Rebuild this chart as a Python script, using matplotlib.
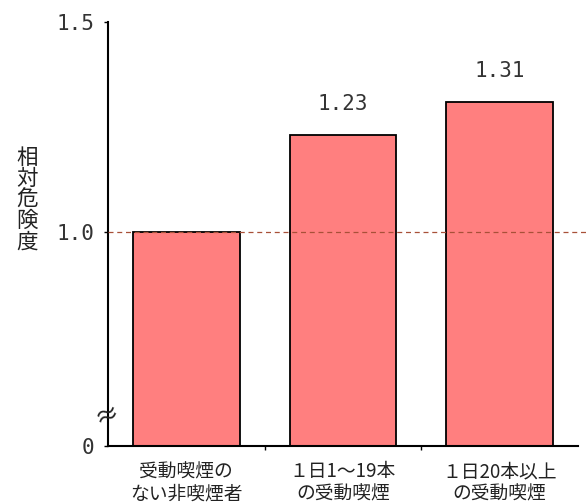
import numpy as np
import matplotlib
matplotlib.use("Agg")
import matplotlib.pyplot as plt

# data
categories = ["受動喫煙の\nない非喫煙者", "１日1〜19本\nの受動喫煙", "１日20本以上\nの受動喫煙"]
risk = [1.0, 1.23, 1.31]
value_labels = ["", "1.23", "1.31"]
ytick_vals = [0, 1.0, 1.5]
ytick_text = ["0", "1.0", "1.5"]

jp = ["Noto Sans CJK JP", "DejaVu Sans"]
mono = ["DejaVu Sans Mono"]

# broken axis: 0..1 squeezed, 1..1.5 stretched
K = 214 / 420


def fwd(v):
    v = np.asarray(v, dtype=float)
    return np.where(v <= 1, v * K, K + (v - 1))


def inv(u):
    u = np.asarray(u, dtype=float)
    return np.where(u <= K, u / K, 1 + (u - K))


fig = plt.figure(figsize=(5.88, 5.03), dpi=100)
ax = fig.add_axes([108 / 588, (503 - 446) / 503, (578 - 108) / 588, (446 - 22) / 503])
ax.set_yscale("function", functions=(fwd, inv))
ax.set_ylim(0, 1.5)
ax.set_xlim(-0.5, 2.5)

x = np.arange(len(categories))
ax.bar(x, risk, width=0.68, color="#ff7f7f", edgecolor="black", linewidth=1.3, zorder=2)

for xi, v, t in zip(x, risk, value_labels):
    if t:
        ax.text(xi, v + 0.05, t, ha="center", va="bottom", fontsize=15, family=mono, color="#333333")

ax.axhline(1.0, xmin=0, xmax=1.03, color="#a85038", lw=0.9, ls=(0, (4, 3)), zorder=3, clip_on=False)

ax.spines["top"].set_visible(False)
ax.spines["right"].set_visible(False)
ax.spines["left"].set_linewidth(1.5)
ax.spines["bottom"].set_linewidth(1.5)

ax.set_yticks(ytick_vals)
ax.set_yticklabels(ytick_text, family=mono, fontsize=15, color="#333333")
ax.yaxis.set_minor_locator(matplotlib.ticker.NullLocator())
ax.tick_params(axis="y", length=3, width=1, pad=7)

ax.set_xticks(x)
ax.set_xticklabels(categories, family=jp, fontsize=13.5, linespacing=1.05, color="#222222")
ax.set_xticks([0.5, 1.5], minor=True)
ax.tick_params(axis="x", which="major", length=0, pad=11)
ax.tick_params(axis="x", which="minor", length=3, width=1)

# axis break mark
ax.text(0.0, 0.07, "≈", transform=ax.transAxes, ha="center", va="center",
        fontsize=18, family=jp, rotation=20, color="#222222")

# y label, stacked vertically
fig.text(27 / 588, 1 - 200 / 503, "相\n対\n危\n険\n度", ha="center", va="center",
         fontsize=15.5, family=jp, linespacing=0.95, color="#222222")

fig.savefig("out.png", dpi=100)
